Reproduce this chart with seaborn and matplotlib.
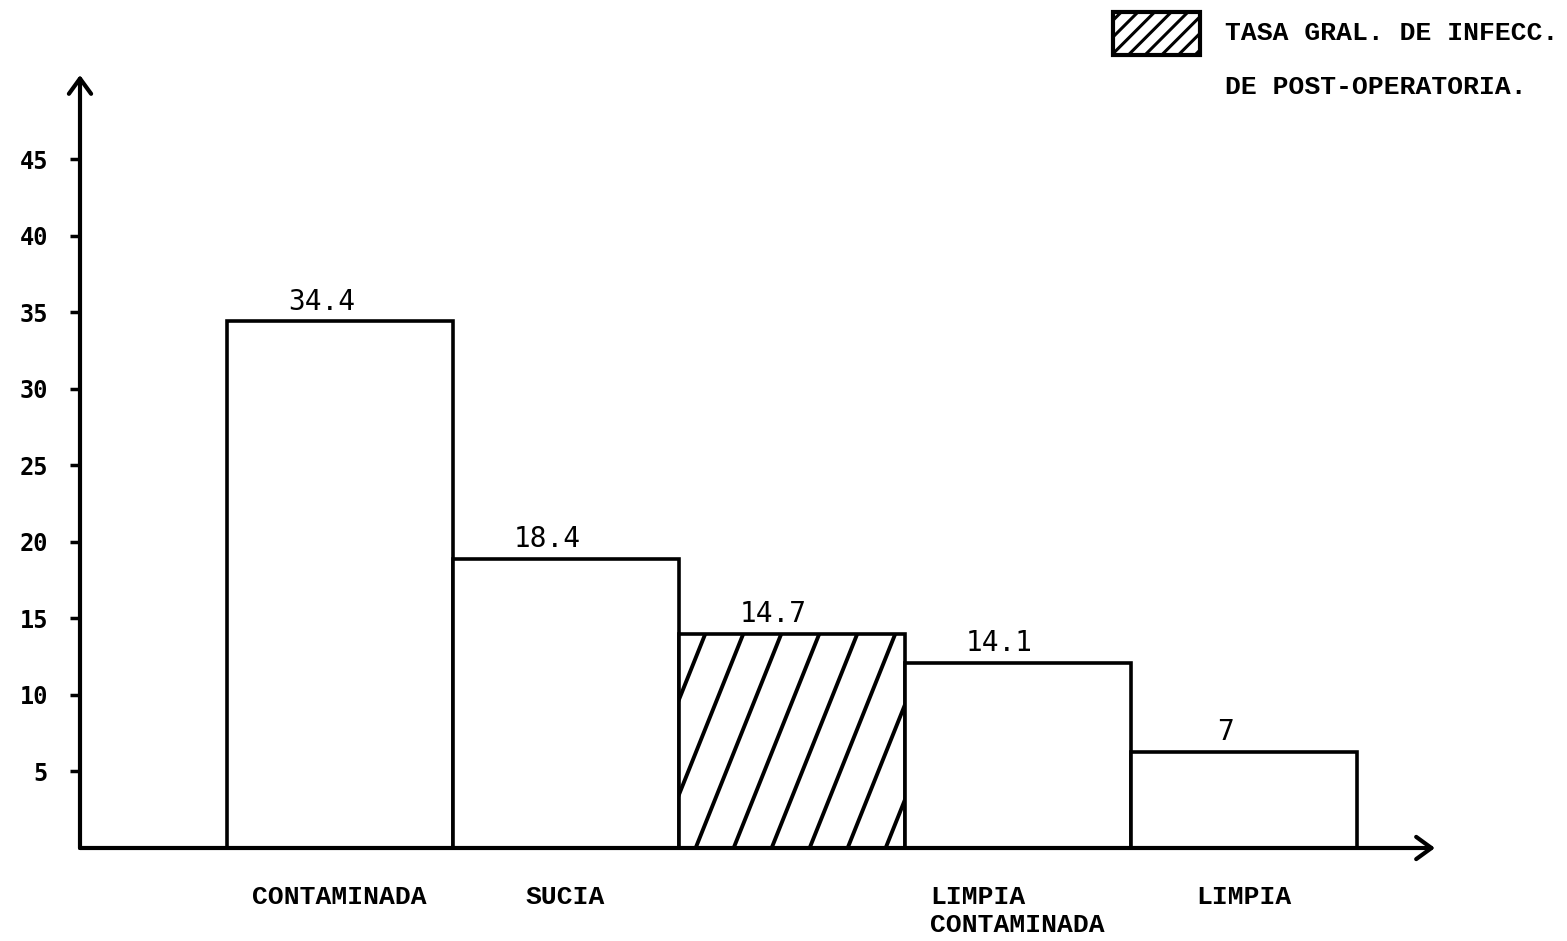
import matplotlib.pyplot as plt
import numpy as np
import seaborn as sns
from matplotlib.patches import Rectangle

# Bar categories (the hatched one has no label under it)
categories = ["CONTAMINADA", "SUCIA", " ", "LIMPIA\nCONTAMINADA", "LIMPIA"]
# Heights as drawn against the y axis
bar_heights = [34.4, 18.9, 14.0, 12.1, 6.3]
# Numbers written above each bar
value_labels = ["34.4", "18.4", "14.7", "14.1", "7"]
hatched_index = 2
y_ticks = [5, 10, 15, 20, 25, 30, 35, 40, 45]
legend_text = ["TASA GRAL. DE INFECC.", "DE POST-OPERATORIA."]


def hatch_bar(ax, bar, spacing_px=38, lean=0.4, start_px=17, lw=2.8):
    # diagonal lines drawn in pixel space, clipped to the bar
    x0, y0 = ax.transData.transform((bar.get_x(), bar.get_y()))
    x1, y1 = ax.transData.transform((bar.get_x() + bar.get_width(),
                                     bar.get_y() + bar.get_height()))
    rise = y1 - y0
    inv = ax.transData.inverted()
    s = x0 + start_px
    while s + lean * rise > x0:
        s -= spacing_px
    while s < x1:
        pts = inv.transform([(s, y0), (s + lean * rise, y1)])
        (line,) = ax.plot(pts[:, 0], pts[:, 1], color="black", lw=lw,
                          solid_capstyle="round", zorder=3)
        line.set_clip_path(bar)
        s += spacing_px


def main():
    sns.set_style("white")
    plt.rcParams["font.family"] = ["DejaVu Sans Mono", "DejaVu Sans"]
    plt.rcParams["hatch.linewidth"] = 2.2
    for key in ["text.color", "xtick.color", "ytick.color", "axes.labelcolor"]:
        plt.rcParams[key] = "black"

    fig = plt.figure(figsize=(15.67, 9.41), dpi=100)
    ax = fig.add_axes([80 / 1567, 93 / 941, 1355 / 1567, 773 / 941])

    sns.barplot(x=categories, y=bar_heights, width=1, color="white",
                saturation=1, edgecolor="black", linewidth=2.6, ax=ax)

    ax.set_xlim(-1.149, 4.847)
    ax.set_ylim(0, 50.5)

    # axes drawn as arrows
    for s in ax.spines.values():
        s.set_visible(False)
    arrow = dict(arrowstyle="->, head_length=0.55, head_width=0.4",
                 lw=3, color="black", shrinkA=0, shrinkB=0, mutation_scale=20)
    ax.annotate("", xy=(1, 0), xytext=(0, 0), xycoords="axes fraction",
                arrowprops=arrow)
    ax.annotate("", xy=(0, 1), xytext=(0, 0), xycoords="axes fraction",
                arrowprops=arrow)

    ax.set_yticks(y_ticks)
    ax.tick_params(axis="y", direction="out", length=7, width=2.5,
                   color="black", labelcolor="black", pad=16, left=True)
    for lab in ax.get_yticklabels():
        lab.set_fontsize(17)
        lab.set_fontweight("bold")

    ax.tick_params(axis="x", length=0, pad=27, labelcolor="black")
    for lab in ax.get_xticklabels():
        lab.set_fontfamily("Liberation Mono")
        lab.set_fontsize(19)
        lab.set_fontweight("bold")
        lab.set_multialignment("left")

    ax.set_xlabel("")
    ax.set_ylabel("")

    for i, (h, txt) in enumerate(zip(bar_heights, value_labels)):
        ax.text(i - 0.08, h + 0.35, txt, ha="center", va="bottom",
                fontsize=20, color="black")

    hatch_bar(ax, ax.patches[hatched_index])

    # legend box drawn at the top right
    fig.patches.append(Rectangle((1113 / 1567, 1 - 55 / 941), 87 / 1567,
                                 43 / 941, transform=fig.transFigure,
                                 facecolor="white", edgecolor="black",
                                 lw=3, hatch="//"))
    for k, line in enumerate(legend_text):
        fig.text(1225 / 1567, 1 - (33 + 54 * k) / 941, line,
                 family="Liberation Mono", fontsize=19, fontweight="bold",
                 va="center", ha="left", color="black")

    fig.savefig("out.png", dpi=100)
    plt.close(fig)


if __name__ == "__main__":
    main()
